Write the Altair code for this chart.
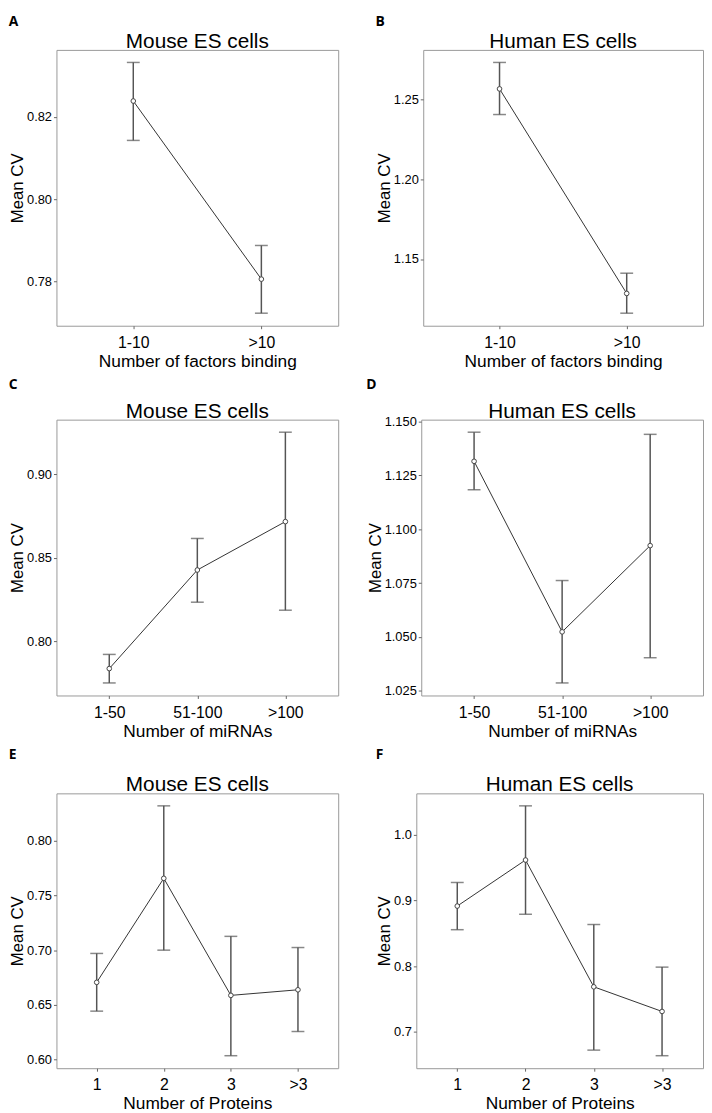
import altair as alt
import pandas as pd

FONT = "Liberation Sans"

# ---------------- data ----------------
# A: Mouse ES cells, factors binding
a_cat = ["1-10", ">10"]
a_mean = [0.8239, 0.7805]
a_lo = [0.8143, 0.7722]
a_hi = [0.8333, 0.7887]
a_ticks = [0.78, 0.80, 0.82]

# B: Human ES cells, factors binding
b_cat = ["1-10", ">10"]
b_mean = [1.2568, 1.1284]
b_lo = [1.2407, 1.1160]
b_hi = [1.2734, 1.1411]
b_ticks = [1.15, 1.20, 1.25]

# C: Mouse ES cells, miRNAs
c_cat = ["1-50", "51-100", ">100"]
c_mean = [0.7836, 0.8427, 0.8717]
c_lo = [0.7750, 0.8234, 0.8186]
c_hi = [0.7921, 0.8616, 0.9253]
c_ticks = [0.80, 0.85, 0.90]

# D: Human ES cells, miRNAs
d_cat = ["1-50", "51-100", ">100"]
d_mean = [1.1315, 1.0524, 1.0924]
d_lo = [1.1183, 1.0287, 1.0404]
d_hi = [1.1450, 1.0762, 1.1440]
d_ticks = [1.025, 1.050, 1.075, 1.100, 1.125, 1.150]

# E: Mouse ES cells, proteins
e_cat = ["1", "2", "3", ">3"]
e_mean = [0.6706, 0.7656, 0.6587, 0.6638]
e_lo = [0.6443, 0.7000, 0.6036, 0.6257]
e_hi = [0.6970, 0.8318, 0.7126, 0.7024]
e_ticks = [0.60, 0.65, 0.70, 0.75, 0.80]

# F: Human ES cells, proteins
f_cat = ["1", "2", "3", ">3"]
f_mean = [0.8915, 0.9616, 0.7685, 0.7310]
f_lo = [0.8555, 0.8790, 0.6721, 0.6636]
f_hi = [0.9274, 1.0441, 0.8634, 0.7985]
f_ticks = [0.7, 0.8, 0.9, 1.0]


def panel(letter, title, xtitle, cats, mean, lo, hi, ticks, fmt, width, height,
          letter_dy, letter_dx):
    df = pd.DataFrame({"cat": cats, "mean": mean, "lo": lo, "hi": hi})
    dmin, dmax = min(lo), max(hi)
    pad = 0.05 * (dmax - dmin)
    x = alt.X("cat:N", sort=cats, title=xtitle,
              scale=alt.Scale(type="point", padding=0.6),
              axis=alt.Axis(labelAngle=0, labelFontSize=16, titleFontSize=17.5,
                            labelPadding=6, titlePadding=2, tickSize=3,
                            tickColor="#666", domain=False, labelColor="black",
                            titleColor="black", titleFontWeight="normal",
                            labelFont=FONT, titleFont=FONT))
    yscale = alt.Scale(domain=[dmin - pad, dmax + pad], nice=False, zero=False)
    yaxis = alt.Axis(values=ticks, format=fmt, labelFontSize=13, titleFontSize=17,
                     labelPadding=2, titlePadding=0, tickSize=3, tickColor="#666",
                     domain=False, grid=False, labelColor="black", titleColor="black",
                     titleFontWeight="normal", labelFont=FONT, titleFont=FONT)
    base = alt.Chart(df)
    rules = base.mark_rule(color="#555", strokeWidth=1.5).encode(
        x=x, y=alt.Y("lo:Q", scale=yscale, axis=yaxis, title="Mean CV"), y2="hi:Q")
    cap_lo = base.mark_tick(color="#555", size=13, thickness=1.5).encode(x=x, y="lo:Q")
    cap_hi = base.mark_tick(color="#555", size=13, thickness=1.5).encode(x=x, y="hi:Q")
    line = base.mark_line(color="#333", strokeWidth=1).encode(x=x, y="mean:Q")
    pts = base.mark_circle(color="white", stroke="#444", strokeWidth=1, size=22,
                           opacity=1).encode(x=x, y="mean:Q")
    ttl = alt.Chart(pd.DataFrame({"t": [title]})).mark_text(
        font=FONT, fontSize=21, align="center", baseline="alphabetic",
        color="black").encode(text="t:N", x=alt.value(width / 2), y=alt.value(-2))
    return alt.layer(rules, cap_lo, cap_hi, line, pts, ttl).properties(
        width=width, height=height,
        title=alt.TitleParams(letter, fontSize=14, font="Open Sans", fontWeight="bold",
                              color="black", anchor="start", baseline="alphabetic",
                              offset=0, dy=letter_dy, dx=letter_dx))


pA = panel("A", "Mouse ES cells", "Number of factors binding", a_cat, a_mean, a_lo, a_hi,
           a_ticks, ".2f", 285, 279, 9, 0)
pB = panel("B", "Human ES cells", "Number of factors binding", b_cat, b_mean, b_lo, b_hi,
           b_ticks, ".2f", 283, 279, 9, 0)
pC = panel("C", "Mouse ES cells", "Number of miRNAs", c_cat, c_mean, c_lo, c_hi,
           c_ticks, ".2f", 285, 279, 2, 0)
pD = panel("D", "Human ES cells", "Number of miRNAs", d_cat, d_mean, d_lo, d_hi,
           d_ticks, ".3f", 285, 279, 2, 0)
pE = panel("E", "Mouse ES cells", "Number of Proteins", e_cat, e_mean, e_lo, e_hi,
           e_ticks, ".2f", 285, 278, -2, 0)
pF = panel("F", "Human ES cells", "Number of Proteins", f_cat, f_mean, f_lo, f_hi,
           f_ticks, ".1f", 290, 278, -2, 0)

row1 = alt.hconcat(pA, pB, spacing=86, bounds="flush")
row2 = alt.hconcat(pC, pD, spacing=84, bounds="flush")
row3 = alt.hconcat(pE, pF, spacing=79, bounds="flush")

chart = alt.vconcat(row1, row2, row3, spacing=7).properties(
    padding=0, background="white"
).configure_view(stroke="#999", strokeWidth=1)

chart.save("out.html", embed_options={"renderer": "svg", "actions": False})
